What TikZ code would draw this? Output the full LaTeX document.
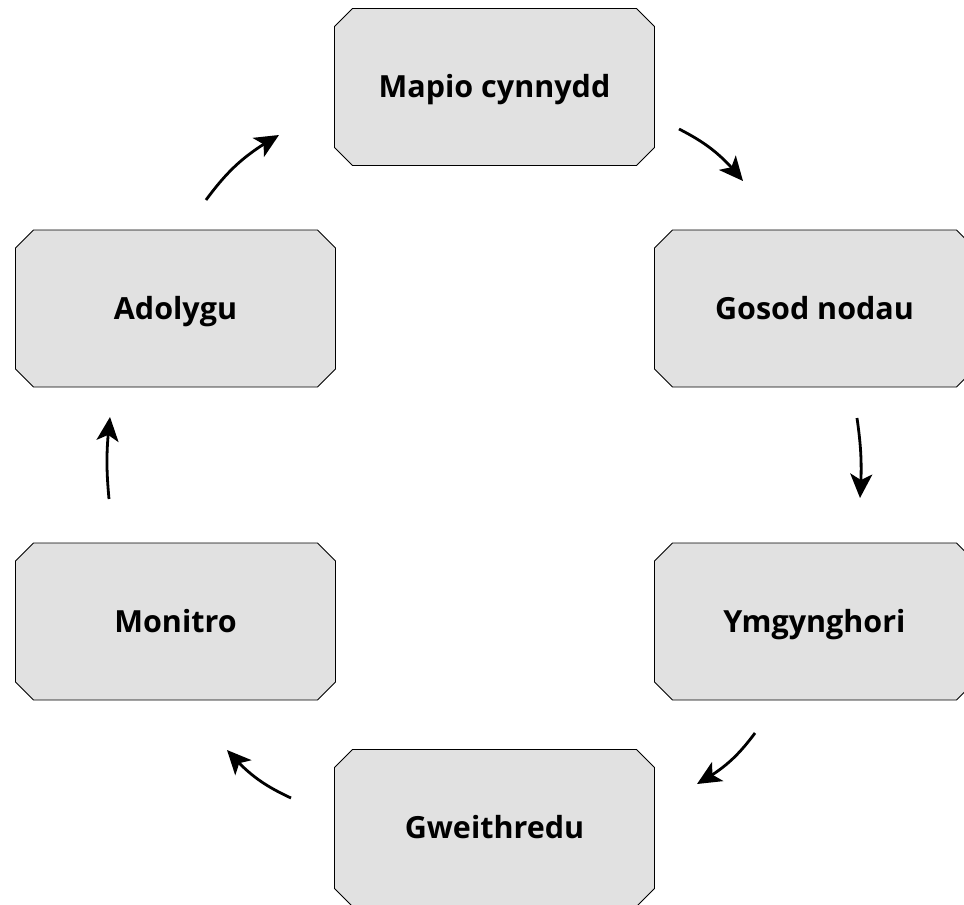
\documentclass[tikz,border=0pt]{standalone}
\usepackage{fontspec}
\setmainfont{Open Sans}
\usetikzlibrary{shapes.misc,arrows.meta,bending}
\definecolor{boxfill}{HTML}{E1E1E1}
\tikzset{
  stagebox/.style={shape=chamfered rectangle, chamfered rectangle xsep=9pt,
    chamfered rectangle ysep=9pt, draw=black, line width=0.9pt, fill=boxfill,
    minimum width=320pt, minimum height=157pt, inner sep=0pt,
    text height=21.5pt, text depth=0pt,
    font=\fontsize{30.5pt}{34pt}\selectfont\bfseries},
  cyclearrow/.style={line width=2.8pt, -{Stealth[length=24pt,width=22pt,inset=6pt]}, bend left=12}
}
\begin{document}
\begin{tikzpicture}[x=1pt,y=-1pt]
\useasboundingbox (0,0) rectangle (964,905);
\clip (0,0) rectangle (964,905);
\node[stagebox] (map) at (494.5,87) {Mapio cynnydd};
\node[stagebox] (gos) at (814.5,308.5) {Gosod nodau};
\node[stagebox] (ymg) at (814.5,621.5) {Ymgynghori};
\node[stagebox] (gwe) at (494.5,828) {Gweithredu};
\node[stagebox] (mon) at (175.5,621.5) {Monitro};
\node[stagebox] (ado) at (175.5,308.5) {Adolygu};
\coordinate (a1s) at (679,129); \coordinate (a1e) at (743,181);
\coordinate (a2s) at (857,418); \coordinate (a2e) at (860,498);
\coordinate (a3s) at (755,733); \coordinate (a3e) at (697,784);
\coordinate (a4s) at (291,798); \coordinate (a4e) at (227,750);
\coordinate (a5s) at (109,499); \coordinate (a5e) at (110,417);
\coordinate (a6s) at (206,200); \coordinate (a6e) at (279,135);
\draw[cyclearrow] (a1s) to (a1e);
\draw[cyclearrow,bend left=6] (a2s) to (a2e);
\draw[cyclearrow] (a3s) to (a3e);
\draw[cyclearrow] (a4s) to (a4e);
\draw[cyclearrow,bend left=6] (a5s) to (a5e);
\draw[cyclearrow] (a6s) to (a6e);
\end{tikzpicture}
\end{document}
